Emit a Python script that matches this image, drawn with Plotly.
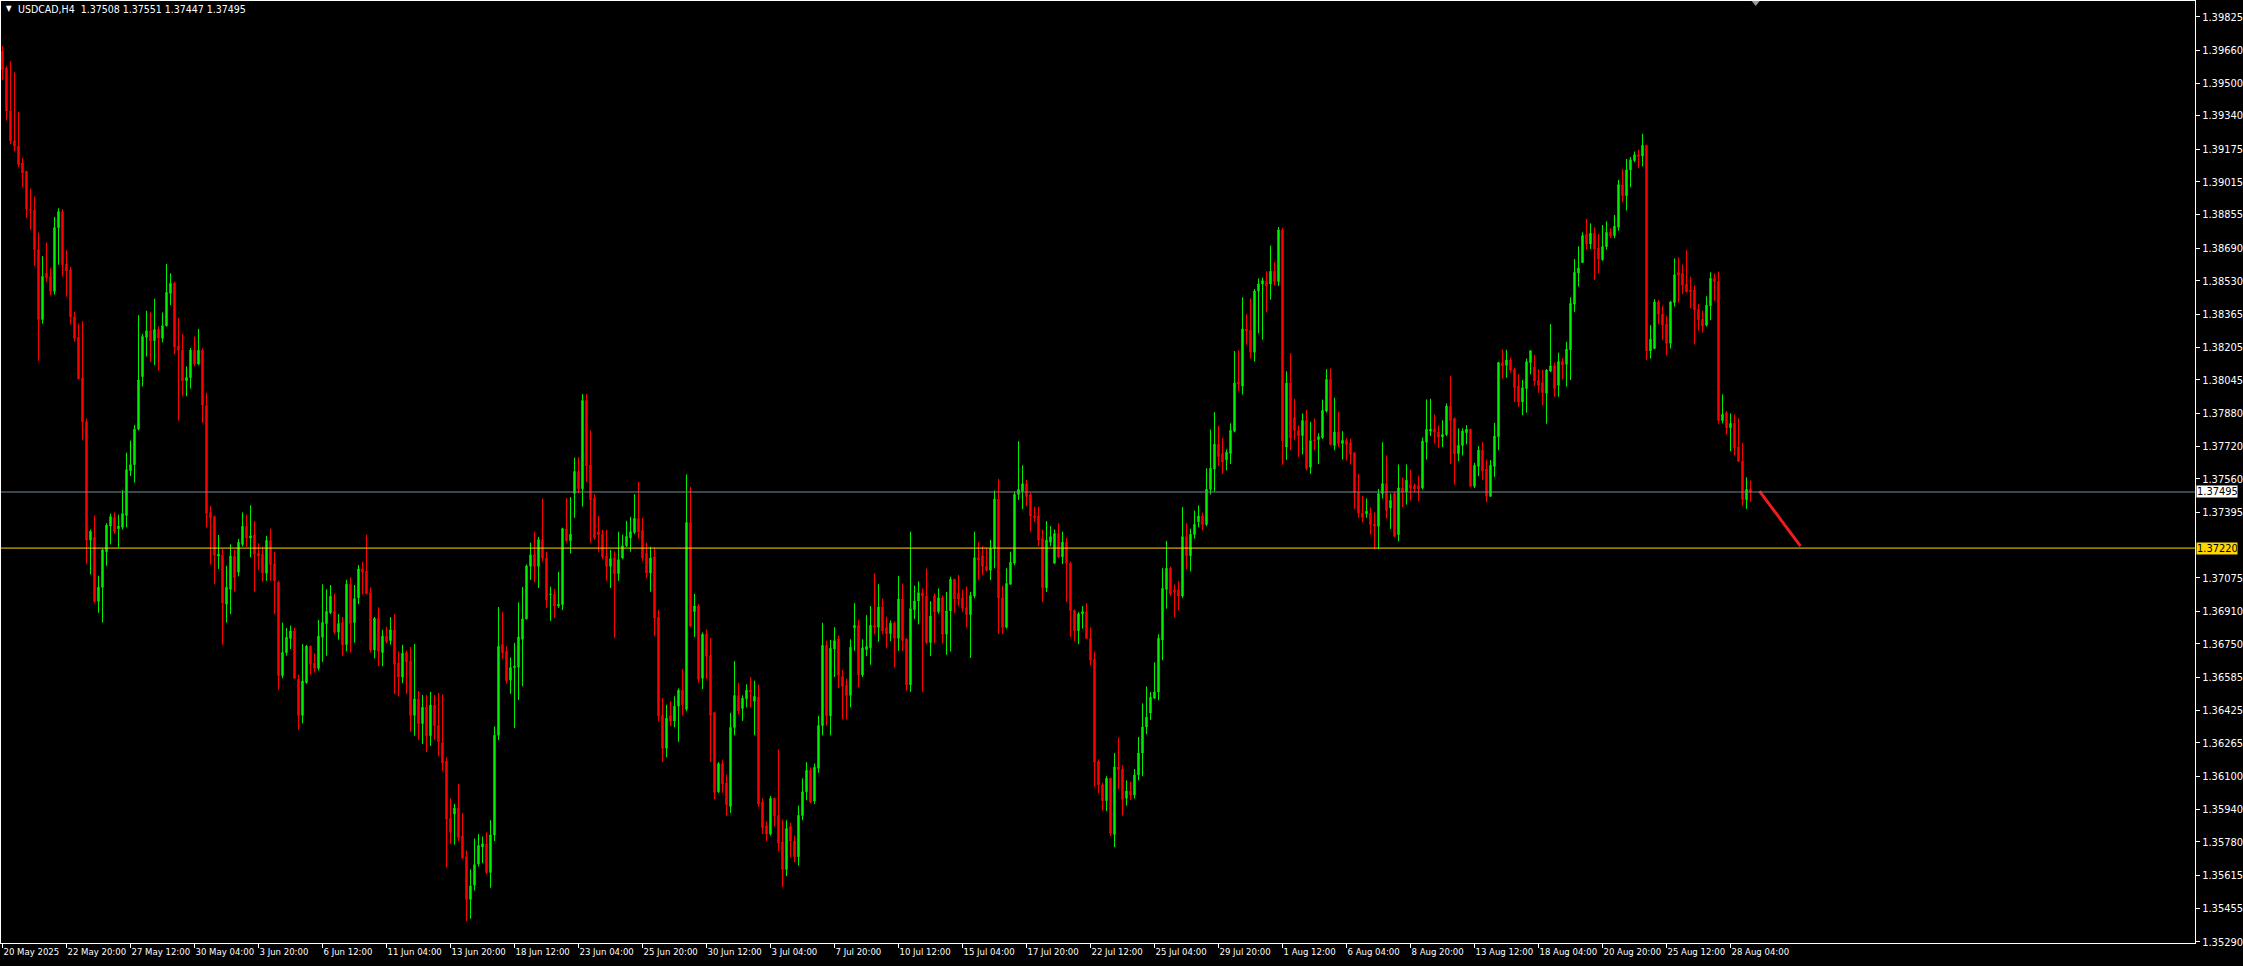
import plotly.graph_objects as go

# ---------------- data (USDCAD, H4) ----------------
open_ = [
 1.39656,1.39573,1.39363,1.39217,1.39191,1.39108,1.39066,1.38880,1.38877,1.38683,
 1.38341,1.38567,1.38551,1.38479,1.38791,1.38869,1.38613,1.38584,1.38354,1.38253,
 1.38054,1.37839,1.37259,1.37273,1.36959,1.37028,1.37202,1.37328,1.37369,1.37315,
 1.37322,1.37380,1.37600,1.37629,1.37803,1.38061,1.38253,1.38285,1.38237,1.38291,
 1.38249,1.38310,1.38469,1.38517,1.38211,1.38190,1.38040,1.38056,1.38190,1.38123,
 1.38190,1.37918,1.37395,1.37374,1.37181,1.37185,1.36945,1.37018,1.37181,1.37102,
 1.37238,1.37326,1.37269,1.37284,1.37196,1.37190,1.37097,1.37257,1.37143,1.37053,
 1.36595,1.36708,1.36777,1.36813,1.36578,1.36400,1.36561,1.36739,1.36656,1.36631,
 1.36783,1.36850,1.36903,1.36909,1.36808,1.36855,1.36746,1.37043,1.36855,1.36976,
 1.37118,1.37106,1.37001,1.36720,1.36875,1.36708,1.36788,1.36767,1.36819,1.36656,
 1.36588,1.36708,1.36666,1.36400,1.36480,1.36360,1.36440,1.36300,1.36450,1.36350,
 1.36266,1.36175,1.35895,1.35916,1.35945,1.35809,1.35707,1.35498,1.35568,1.35671,
 1.35755,1.35770,1.35630,1.35813,1.36302,1.36748,1.36713,1.36573,1.36634,1.36636,
 1.36773,1.36873,1.37131,1.37189,1.37131,1.37261,1.37172,1.36993,1.36993,1.36936,
 1.36943,1.37315,1.37256,1.37488,1.37595,1.37511,1.37943,1.37627,1.37466,1.37300,
 1.37288,1.37181,1.37131,1.37172,1.37095,1.37172,1.37231,1.37270,1.37297,1.37365,
 1.37306,1.37195,1.37098,1.37177,1.36881,1.36400,1.36239,1.36398,1.36372,1.36445,
 1.36523,1.36430,1.37345,1.36909,1.36936,1.36582,1.36797,1.36693,1.36413,1.36025,
 1.36163,1.36068,1.35954,1.36341,1.36497,1.36434,1.36481,1.36523,1.36469,1.36489,
 1.35975,1.35859,1.35818,1.35993,1.35909,1.35779,1.35645,1.35854,1.35784,1.35707,
 1.35909,1.36025,1.36130,1.35980,1.36141,1.36350,1.36743,1.36398,1.36725,1.36775,
 1.36590,1.36547,1.36498,1.36829,1.36841,1.36598,1.36722,1.36731,1.36841,1.36832,
 1.36931,1.36830,1.36801,1.36852,1.36778,1.36970,1.36774,1.36550,1.36918,1.36960,
 1.37001,1.36985,1.36757,1.36985,1.36908,1.36976,1.36798,1.36912,1.37067,1.36997,
 1.36976,1.36927,1.36894,1.36985,1.37173,1.37183,1.37131,1.37111,1.37218,1.37460,
 1.36976,1.36832,1.37043,1.37146,1.37483,1.37497,1.37535,1.37483,1.37377,1.37377,
 1.37266,1.37026,1.37249,1.37146,1.37291,1.37177,1.37249,1.37146,1.36914,1.36815,
 1.36898,1.36908,1.36778,1.36674,1.36174,1.36060,1.35981,1.36091,1.35816,1.36147,
 1.36137,1.35994,1.36029,1.36009,1.36108,1.36215,1.36343,1.36412,1.36484,1.36515,
 1.36770,1.37018,1.37121,1.37016,1.37016,1.36985,1.37276,1.37183,1.37287,1.37349,
 1.37377,1.37336,1.37508,1.37607,1.37729,1.37684,1.37653,1.37684,1.37793,1.38035,
 1.38014,1.38294,1.38289,1.38180,1.38480,1.38515,1.38527,1.38515,1.38577,1.38527,
 1.38780,1.37715,1.38029,1.37859,1.37797,1.37772,1.37845,1.37617,1.37750,1.37752,
 1.37762,1.37892,1.38047,1.37723,1.37789,1.37733,1.37748,1.37736,1.37687,1.37494,
 1.37392,1.37389,1.37392,1.37338,1.37327,1.37487,1.37536,1.37417,1.37487,1.37286,
 1.37515,1.37494,1.37531,1.37526,1.37526,1.37515,1.37739,1.37793,1.37802,1.37789,
 1.37764,1.37777,1.37916,1.37856,1.37682,1.37723,1.37785,1.37802,1.37523,1.37621,
 1.37700,1.37608,1.37474,1.37621,1.37766,1.38129,1.38116,1.38142,1.38096,1.38015,
 1.37936,1.38002,1.38129,1.38108,1.38042,1.38031,1.37979,1.38088,1.38113,1.38018,
 1.38134,1.38121,1.38192,1.38416,1.38568,1.38620,1.38757,1.38711,1.38763,1.38691,
 1.38634,1.38698,1.38768,1.38752,1.38793,1.39001,1.38948,1.39074,1.39120,1.39148,
 1.39142,1.39194,1.38187,1.38198,1.38427,1.38367,1.38318,1.38224,1.38424,1.38572,
 1.38567,1.38514,1.38485,1.38485,1.38391,1.38342,1.38313,1.38408,1.38542,1.38527,
 1.37846,1.37884,1.37810,1.37831,1.37716,1.37646,1.37458,1.37508]

high = [
 1.39681,1.39583,1.39608,1.39552,1.39359,1.39133,1.39070,1.38982,1.38944,1.38766,
 1.38651,1.38718,1.38592,1.38844,1.38886,1.38882,1.38680,1.38599,1.38379,1.38320,
 1.38333,1.37855,1.37311,1.37380,1.37085,1.37217,1.37342,1.37389,1.37395,1.37384,
 1.37504,1.37688,1.37747,1.37824,1.38362,1.38270,1.38383,1.38375,1.38442,1.38306,
 1.38375,1.38613,1.38567,1.38525,1.38348,1.38270,1.38111,1.38201,1.38257,1.38295,
 1.38199,1.37981,1.37426,1.37380,1.37284,1.37217,1.37133,1.37238,1.37211,1.37265,
 1.37395,1.37384,1.37430,1.37353,1.37244,1.37227,1.37280,1.37315,1.37202,1.37060,
 1.36855,1.36829,1.36840,1.36829,1.36600,1.36749,1.36746,1.36742,1.36704,1.36867,
 1.37043,1.37018,1.37039,1.36997,1.36896,1.36882,1.37064,1.37076,1.37039,1.37137,
 1.37154,1.37286,1.37028,1.36882,1.36930,1.36819,1.36834,1.36882,1.36896,1.36714,
 1.36746,1.36718,1.36735,1.36750,1.36520,1.36500,1.36500,1.36515,1.36500,1.36510,
 1.36502,1.36195,1.35993,1.35966,1.36064,1.35921,1.35737,1.35645,1.35796,1.35818,
 1.35806,1.35827,1.35886,1.36345,1.36931,1.36907,1.36738,1.36684,1.36755,1.36954,
 1.37029,1.37140,1.37247,1.37300,1.37275,1.37463,1.37202,1.37031,1.37020,1.37104,
 1.37320,1.37466,1.37470,1.37663,1.37666,1.37975,1.37975,1.37797,1.37484,1.37377,
 1.37309,1.37309,1.37211,1.37204,1.37300,1.37286,1.37354,1.37373,1.37484,1.37545,
 1.37368,1.37247,1.37227,1.37223,1.36916,1.36484,1.36452,1.36470,1.36493,1.36532,
 1.36627,1.37581,1.37520,1.36995,1.36945,1.36806,1.36823,1.36779,1.36416,1.36171,
 1.36180,1.36109,1.36413,1.36666,1.36559,1.36498,1.36552,1.36588,1.36570,1.36550,
 1.35993,1.35880,1.36005,1.35998,1.36234,1.35889,1.35886,1.35873,1.35811,1.35957,
 1.36091,1.36171,1.36145,1.36163,1.36398,1.36854,1.36766,1.36770,1.36832,1.36791,
 1.36622,1.36579,1.36773,1.36950,1.36868,1.36773,1.36891,1.36936,1.37097,1.37043,
 1.36972,1.36883,1.36865,1.36861,1.37084,1.37047,1.36778,1.37301,1.37036,1.37057,
 1.37022,1.37119,1.36960,1.36997,1.37022,1.36987,1.37005,1.37080,1.37069,1.37088,
 1.37016,1.37032,1.37005,1.37301,1.37249,1.37229,1.37222,1.37260,1.37502,1.37559,
 1.37036,1.37121,1.37202,1.37497,1.37744,1.37626,1.37555,1.37493,1.37423,1.37423,
 1.37311,1.37353,1.37328,1.37311,1.37342,1.37301,1.37270,1.37154,1.36918,1.36906,
 1.36935,1.36950,1.36832,1.36712,1.36184,1.36070,1.36102,1.36095,1.36215,1.36292,
 1.36157,1.36081,1.36075,1.36137,1.36294,1.36459,1.36542,1.36515,1.36660,1.36798,
 1.37121,1.37255,1.37129,1.37042,1.37059,1.37421,1.37342,1.37315,1.37404,1.37429,
 1.37394,1.37611,1.37801,1.37886,1.37818,1.37760,1.37704,1.37832,1.38186,1.38190,
 1.38449,1.38366,1.38443,1.38490,1.38542,1.38546,1.38577,1.38703,1.38622,1.38794,
 1.38790,1.38087,1.38176,1.37952,1.37822,1.37880,1.37899,1.37839,1.37855,1.37783,
 1.37948,1.38097,1.38100,1.37957,1.37888,1.37793,1.37761,1.37756,1.37690,1.37585,
 1.37477,1.37463,1.37420,1.37395,1.37510,1.37739,1.37674,1.37487,1.37495,1.37630,
 1.37567,1.37630,1.37605,1.37536,1.37575,1.37761,1.37949,1.37952,1.37875,1.37821,
 1.37846,1.37929,1.38064,1.37859,1.37807,1.37807,1.37823,1.37805,1.37638,1.37720,
 1.37739,1.37654,1.37651,1.37834,1.38133,1.38195,1.38192,1.38154,1.38105,1.38072,
 1.38044,1.38149,1.38190,1.38167,1.38097,1.38093,1.38096,1.38318,1.38129,1.38178,
 1.38151,1.38231,1.38449,1.38637,1.38699,1.38768,1.38834,1.38812,1.38793,1.38760,
 1.38804,1.38822,1.38788,1.38853,1.39025,1.39079,1.39128,1.39137,1.39164,1.39173,
 1.39251,1.39198,1.38313,1.38440,1.38436,1.38408,1.38359,1.38432,1.38640,1.38645,
 1.38609,1.38681,1.38550,1.38509,1.38416,1.38383,1.38454,1.38572,1.38567,1.38576,
 1.37974,1.37892,1.37880,1.37875,1.37856,1.37736,1.37567,1.37551]

low = [
 1.39514,1.39317,1.39200,1.39164,1.39087,1.38990,1.38840,1.38781,1.38603,1.38138,
 1.38320,1.38525,1.38459,1.38463,1.38609,1.38551,1.38452,1.38316,1.38232,1.38048,
 1.37751,1.37143,1.37091,1.36951,1.36903,1.36855,1.37133,1.37238,1.37290,1.37223,
 1.37311,1.37322,1.37573,1.37541,1.37797,1.38013,1.38159,1.38132,1.38117,1.38090,
 1.38228,1.38306,1.38410,1.38170,1.37845,1.37964,1.37964,1.38002,1.38111,1.38117,
 1.37834,1.37322,1.37139,1.37043,1.37118,1.36746,1.36855,1.36896,1.37007,1.37081,
 1.37227,1.37227,1.37175,1.37007,1.37112,1.37056,1.37060,1.37060,1.36896,1.36526,
 1.36582,1.36693,1.36725,1.36578,1.36330,1.36360,1.36555,1.36599,1.36610,1.36620,
 1.36662,1.36693,1.36896,1.36798,1.36771,1.36693,1.36714,1.36708,1.36756,1.36945,
 1.36993,1.36993,1.36708,1.36679,1.36641,1.36641,1.36754,1.36746,1.36505,1.36494,
 1.36557,1.36505,1.36320,1.36300,1.36280,1.36260,1.36220,1.36250,1.36280,1.36200,
 1.36127,1.35654,1.35770,1.35766,1.35784,1.35695,1.35391,1.35403,1.35541,1.35659,
 1.35675,1.35621,1.35555,1.35784,1.36279,1.36677,1.36555,1.36505,1.36338,1.36475,
 1.36543,1.36870,1.37064,1.37052,1.37025,1.37154,1.36927,1.36863,1.36877,1.36927,
 1.36916,1.37248,1.37193,1.37368,1.37488,1.37423,1.37545,1.37247,1.37261,1.37202,
 1.37166,1.37060,1.37025,1.36779,1.37059,1.37165,1.37225,1.37202,1.37288,1.37266,
 1.37157,1.37073,1.37006,1.36788,1.36372,1.36171,1.36195,1.36347,1.36341,1.36270,
 1.36400,1.36420,1.36832,1.36784,1.36559,1.36529,1.36579,1.36171,1.35989,1.36020,
 1.36020,1.35909,1.35921,1.36302,1.36404,1.36373,1.36439,1.36439,1.36302,1.35952,
 1.35818,1.35784,1.35810,1.35855,1.35734,1.35559,1.35612,1.35704,1.35680,1.35663,
 1.35886,1.35984,1.35970,1.35966,1.36118,1.36302,1.36350,1.36302,1.36588,1.36534,
 1.36380,1.36380,1.36439,1.36716,1.36538,1.36588,1.36690,1.36648,1.36797,1.36761,
 1.36797,1.36732,1.36763,1.36635,1.36716,1.36716,1.36521,1.36515,1.36871,1.36846,
 1.36515,1.36749,1.36691,1.36753,1.36898,1.36753,1.36697,1.36712,1.36902,1.36935,
 1.36908,1.36832,1.36681,1.36974,1.37063,1.37088,1.37105,1.37063,1.37121,1.36799,
 1.36799,1.36825,1.37040,1.37136,1.37456,1.37411,1.37425,1.37301,1.37349,1.37229,
 1.36956,1.37005,1.37229,1.37142,1.37171,1.37142,1.36956,1.36784,1.36763,1.36749,
 1.36825,1.36774,1.36645,1.36050,1.36019,1.35932,1.35930,1.35808,1.35754,1.36039,
 1.35909,1.35957,1.35984,1.35992,1.36081,1.36102,1.36308,1.36377,1.36480,1.36474,
 1.36670,1.36923,1.36985,1.36881,1.36914,1.36976,1.37115,1.37105,1.37266,1.37322,
 1.37307,1.37328,1.37483,1.37497,1.37622,1.37584,1.37601,1.37632,1.37787,1.37990,
 1.37973,1.38217,1.38149,1.38134,1.38273,1.38242,1.38376,1.38438,1.38507,1.38505,
 1.37628,1.37653,1.37700,1.37750,1.37667,1.37679,1.37601,1.37584,1.37700,1.37632,
 1.37755,1.37884,1.37723,1.37700,1.37716,1.37654,1.37649,1.37630,1.37412,1.37368,
 1.37346,1.37368,1.37286,1.37215,1.37215,1.37463,1.37364,1.37314,1.37274,1.37253,
 1.37422,1.37433,1.37453,1.37494,1.37450,1.37507,1.37654,1.37769,1.37733,1.37712,
 1.37715,1.37769,1.37633,1.37531,1.37646,1.37674,1.37728,1.37518,1.37515,1.37572,
 1.37553,1.37445,1.37470,1.37569,1.37700,1.38051,1.38055,1.38080,1.37936,1.37913,
 1.37872,1.37884,1.38072,1.38015,1.37982,1.37920,1.37830,1.38083,1.37962,1.37962,
 1.38047,1.38011,1.38044,1.38378,1.38503,1.38620,1.38683,1.38686,1.38535,1.38568,
 1.38629,1.38683,1.38739,1.38739,1.38776,1.38915,1.38875,1.38989,1.39112,1.39083,
 1.39091,1.38142,1.38149,1.38195,1.38318,1.38241,1.38165,1.38198,1.38404,1.38424,
 1.38465,1.38473,1.38395,1.38219,1.38285,1.38277,1.38306,1.38337,1.38432,1.37830,
 1.37831,1.37777,1.37695,1.37674,1.37641,1.37428,1.37412,1.37447]

close = [
 1.39566,1.39363,1.39217,1.39191,1.39101,1.39059,1.38882,1.38877,1.38683,1.38341,
 1.38551,1.38546,1.38479,1.38791,1.38869,1.38609,1.38578,1.38354,1.38249,1.38050,
 1.37839,1.37259,1.37301,1.36959,1.37028,1.37211,1.37332,1.37374,1.37301,1.37328,
 1.37389,1.37604,1.37629,1.37803,1.38044,1.38257,1.38285,1.38237,1.38291,1.38249,
 1.38310,1.38473,1.38517,1.38207,1.38190,1.38040,1.38056,1.38190,1.38123,1.38190,
 1.37922,1.37391,1.37369,1.37185,1.37190,1.36951,1.37028,1.37181,1.37076,1.37248,
 1.37326,1.37269,1.37280,1.37190,1.37181,1.37097,1.37257,1.37139,1.37060,1.36595,
 1.36708,1.36783,1.36813,1.36582,1.36400,1.36568,1.36739,1.36651,1.36631,1.36788,
 1.36855,1.36909,1.36984,1.36808,1.36850,1.36746,1.37043,1.36850,1.36972,1.37118,
 1.37102,1.36997,1.36720,1.36875,1.36714,1.36788,1.36762,1.36819,1.36651,1.36588,
 1.36704,1.36662,1.36400,1.36480,1.36360,1.36440,1.36300,1.36450,1.36350,1.36270,
 1.36166,1.35891,1.35827,1.35945,1.35802,1.35702,1.35498,1.35564,1.35668,1.35762,
 1.35770,1.35630,1.35814,1.36302,1.36738,1.36707,1.36570,1.36634,1.36641,1.36784,
 1.36873,1.37132,1.37186,1.37131,1.37261,1.37172,1.36966,1.36995,1.36936,1.36945,
 1.37315,1.37256,1.37288,1.37595,1.37511,1.37943,1.37624,1.37457,1.37270,1.37284,
 1.37177,1.37131,1.37168,1.37095,1.37163,1.37231,1.37277,1.37300,1.37365,1.37300,
 1.37172,1.37098,1.37172,1.36877,1.36398,1.36239,1.36386,1.36372,1.36445,1.36523,
 1.36452,1.37345,1.36838,1.36936,1.36577,1.36797,1.36690,1.36400,1.36023,1.36163,
 1.36064,1.35963,1.36341,1.36497,1.36422,1.36484,1.36523,1.36514,1.36493,1.35966,
 1.35850,1.35818,1.35993,1.35907,1.35773,1.35645,1.35845,1.35784,1.35707,1.35909,
 1.36025,1.36130,1.35975,1.36145,1.36350,1.36743,1.36398,1.36729,1.36766,1.36597,
 1.36543,1.36498,1.36734,1.36841,1.36598,1.36731,1.36738,1.36841,1.36832,1.36931,
 1.36814,1.36801,1.36852,1.36778,1.36970,1.36767,1.36550,1.36923,1.36960,1.37001,
 1.36985,1.36757,1.36887,1.36908,1.36976,1.36798,1.36912,1.37067,1.36970,1.36970,
 1.36925,1.36894,1.36987,1.37173,1.37162,1.37131,1.37111,1.37218,1.37460,1.36976,
 1.36832,1.37047,1.37150,1.37483,1.37508,1.37535,1.37473,1.37377,1.37369,1.37259,
 1.37026,1.37259,1.37276,1.37291,1.37177,1.37249,1.37146,1.36914,1.36815,1.36898,
 1.36908,1.36778,1.36670,1.36170,1.36060,1.35981,1.36091,1.35822,1.36147,1.36133,
 1.35988,1.36029,1.36009,1.36108,1.36215,1.36343,1.36391,1.36488,1.36515,1.36778,
 1.37022,1.37121,1.36995,1.37005,1.36985,1.37276,1.37183,1.37287,1.37336,1.37377,
 1.37336,1.37508,1.37611,1.37729,1.37669,1.37642,1.37690,1.37797,1.38029,1.38025,
 1.38294,1.38283,1.38180,1.38480,1.38515,1.38531,1.38505,1.38577,1.38527,1.38780,
 1.37746,1.38029,1.37760,1.37797,1.37772,1.37845,1.37611,1.37746,1.37746,1.37766,
 1.37894,1.38047,1.37728,1.37789,1.37733,1.37748,1.37728,1.37679,1.37490,1.37392,
 1.37371,1.37400,1.37335,1.37327,1.37487,1.37536,1.37405,1.37453,1.37278,1.37515,
 1.37494,1.37553,1.37515,1.37510,1.37510,1.37744,1.37802,1.37802,1.37789,1.37764,
 1.37777,1.37916,1.37846,1.37682,1.37723,1.37793,1.37802,1.37523,1.37625,1.37700,
 1.37597,1.37474,1.37625,1.37769,1.38129,1.38113,1.38142,1.38093,1.38006,1.37936,
 1.38006,1.38133,1.38187,1.38039,1.38018,1.37982,1.38093,1.38113,1.38002,1.38134,
 1.38118,1.38195,1.38419,1.38572,1.38593,1.38752,1.38711,1.38763,1.38686,1.38637,
 1.38698,1.38768,1.38752,1.38798,1.39001,1.38948,1.39074,1.39124,1.39148,1.39140,
 1.39194,1.38187,1.38244,1.38427,1.38367,1.38313,1.38224,1.38427,1.38560,1.38558,
 1.38509,1.38477,1.38477,1.38388,1.38339,1.38309,1.38411,1.38542,1.38527,1.37846,
 1.37875,1.37810,1.37831,1.37711,1.37646,1.37458,1.37507,1.37495]

bars_per_label = 16
time_labels = ["20 May 2025", "22 May 20:00", "27 May 12:00", "30 May 04:00", "3 Jun 20:00",
               "6 Jun 12:00", "11 Jun 04:00", "13 Jun 20:00", "18 Jun 12:00", "23 Jun 04:00",
               "25 Jun 20:00", "30 Jun 12:00", "3 Jul 04:00", "7 Jul 20:00", "10 Jul 12:00",
               "15 Jul 04:00", "17 Jul 20:00", "22 Jul 12:00", "25 Jul 04:00", "29 Jul 20:00",
               "1 Aug 12:00", "6 Aug 04:00", "8 Aug 20:00", "13 Aug 12:00", "18 Aug 04:00",
               "20 Aug 20:00", "25 Aug 12:00", "28 Aug 04:00"]
price_labels = [1.39825, 1.39660, 1.39500, 1.39340, 1.39175, 1.39015, 1.38855, 1.38690,
                1.38530, 1.38365, 1.38205, 1.38045, 1.37880, 1.37720, 1.37560, 1.37395,
                1.37075, 1.36910, 1.36750, 1.36585, 1.36425, 1.36265, 1.36100, 1.35940,
                1.35780, 1.35615, 1.35455, 1.35290]
bid_price = 1.37495
level_price = 1.37220
trend_x = [439.25, 449.5]
trend_y = [1.37499, 1.37230]
shift_marker_x = 438.3
title_text = "USDCAD,H4\u00a0 1.37508 1.37551 1.37447 1.37495"

# ---------------- style ----------------
GREEN = "#00EE00"
RED = "#FF0000"
FONT = "'Liberation Sans Narrow', 'DejaVu Sans Condensed', Arial, sans-serif"

x = list(range(len(open_)))

fig = go.Figure()
fig.add_trace(go.Candlestick(
    x=x, open=open_, high=high, low=low, close=close,
    increasing=dict(line=dict(color=GREEN, width=1), fillcolor=GREEN),
    decreasing=dict(line=dict(color=RED, width=1), fillcolor=RED),
    whiskerwidth=0, hoverinfo="skip", showlegend=False))

fig.add_trace(go.Scatter(x=trend_x, y=trend_y, mode="lines",
                         line=dict(color="#EE1C1C", width=3), hoverinfo="skip",
                         showlegend=False))

fig.add_hline(y=bid_price, line=dict(color="#778899", width=1))
fig.add_hline(y=level_price, line=dict(color="#FFD700", width=1))

# chart-shift marker (small grey triangle at the top edge)
fig.add_shape(type="path", xref="x", yref="paper", xsizemode="pixel", ysizemode="pixel",
              xanchor=shift_marker_x, yanchor=1, path="M -4,0 L 4,0 L 0,-5 Z",
              fillcolor="#9A9A9A", line=dict(width=0))

fig.add_annotation(x=1, xref="paper", y=bid_price, yref="y", xanchor="left",
                   yanchor="middle", xshift=1, text="1.37495", showarrow=False,
                   bgcolor="white", font=dict(color="black", size=11, family=FONT),
                   width=40, height=11, align="left", borderpad=0)
fig.add_annotation(x=1, xref="paper", y=level_price, yref="y", xanchor="left",
                   yanchor="middle", xshift=1, text="1.37220", showarrow=False,
                   bgcolor="#FFD700", font=dict(color="black", size=11, family=FONT),
                   width=40, height=11, align="left", borderpad=0)
fig.add_annotation(x=0, xref="paper", y=1, yref="paper", xanchor="left",
                   yanchor="middle", xshift=3, yshift=-7, text="\u25BC", showarrow=False,
                   font=dict(color="white", size=8, family=FONT))
fig.add_annotation(x=0, xref="paper", y=1, yref="paper", xanchor="left",
                   yanchor="middle", xshift=15, yshift=-8, text=title_text, showarrow=False,
                   font=dict(color="white", size=10.5, family=FONT))

fig.update_layout(
    width=2243, height=966,
    paper_bgcolor="black", plot_bgcolor="black",
    margin=dict(l=1, r=48, t=1, b=23, pad=0, autoexpand=False),
    showlegend=False, boxgap=0.5,
    font=dict(family=FONT, size=11, color="white"),
    xaxis=dict(range=[-0.375, 548.125], rangeslider=dict(visible=False),
               showgrid=False, zeroline=False, tickmode="array",
               tickvals=[bars_per_label * k for k in range(len(time_labels))],
               ticktext=time_labels, ticks="outside", ticklen=4, tickcolor="white",
               showline=True, linecolor="white", linewidth=1, mirror=True,
               ticklabelposition="outside right", tickangle=0, automargin=False,
               tickfont=dict(family=FONT, size=9.5, color="white")),
    yaxis=dict(range=[1.35284, 1.39902], side="right", showgrid=False, zeroline=False,
               tickmode="array", tickvals=price_labels, tickformat=".5f",
               ticks="outside", ticklen=4, tickcolor="white", automargin=False,
               showline=True, linecolor="white", linewidth=1, mirror=True,
               tickfont=dict(family=FONT, size=11, color="white")),
)

fig.write_html("out.html", config={"displayModeBar": False},
               post_script="document.body.style.margin='0';document.body.style.overflow='hidden';")
